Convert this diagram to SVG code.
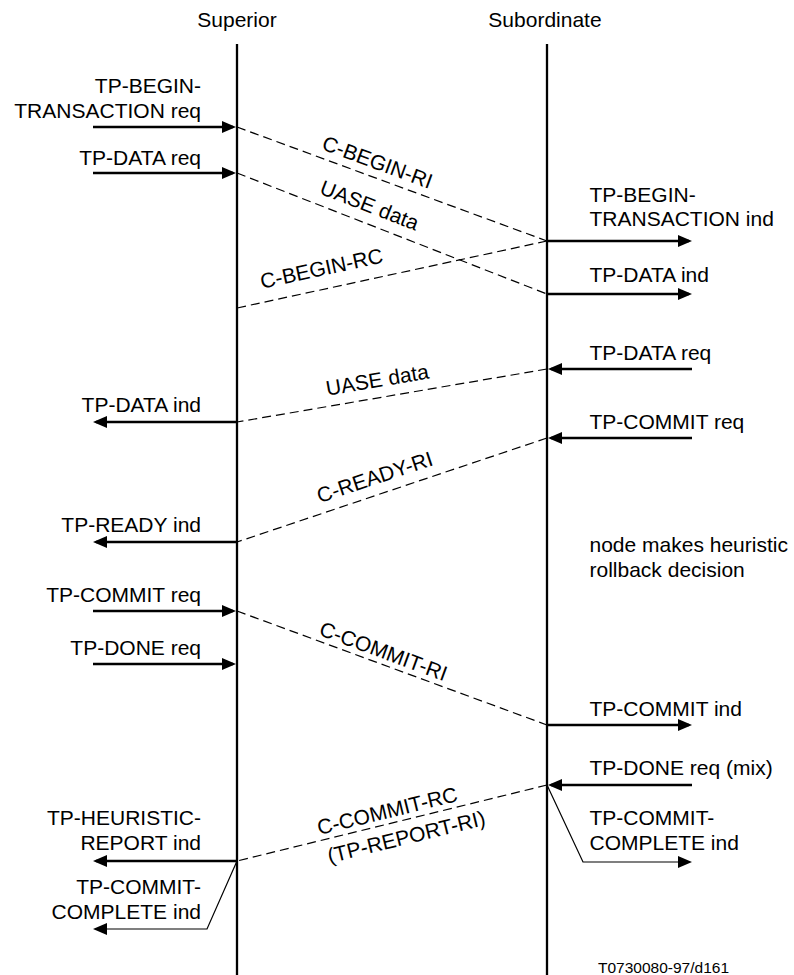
<svg xmlns="http://www.w3.org/2000/svg" width="794" height="975" viewBox="0 0 794 975">
<defs>
<style>
text{font-family:"Liberation Sans",Arial,sans-serif;font-size:21px;fill:#000}
.e{text-anchor:end}
.m{text-anchor:middle}
.life{stroke:#000;stroke-width:2.3;fill:none}
.arr{stroke:#000;stroke-width:2.5;fill:none;marker-end:url(#ah)}
.thin{stroke:#000;stroke-width:1.2;fill:none;marker-end:url(#ah)}
.dash{stroke:#000;stroke-width:1.2;fill:none;stroke-dasharray:9 5}
.code{font-size:15.5px}
</style>
<marker id="ah" markerUnits="userSpaceOnUse" markerWidth="14" markerHeight="12" viewBox="0 0 14 12" refX="11" refY="6" orient="auto">
<path d="M0,0 L14,6 L0,12 z" fill="#000"/>
</marker>
</defs>
<rect width="794" height="975" fill="#fff"/>

<g id="superior">
<text class="m" x="237" y="26.5">Superior</text>
<path class="life" d="M237,44 L237,975"/>
</g>
<g id="subordinate">
<text class="m" x="545" y="26.5">Subordinate</text>
<path class="life" d="M547,44 L547,975"/>
</g>

<g id="connectors">
<path class="arr" d="M93,127 L233,127"/>
<path class="arr" d="M93,173 L233,173"/>
<path class="arr" d="M93,611 L233,611"/>
<path class="arr" d="M93,664 L233,664"/>
<path class="arr" d="M237,422 L96,422"/>
<path class="arr" d="M237,542 L96,542"/>
<path class="arr" d="M237,861 L96,861"/>
<path class="thin" d="M237,861 L207,929 L96,929"/>
<path class="arr" d="M547,241 L689,241"/>
<path class="arr" d="M547,294 L689,294"/>
<path class="arr" d="M547,725 L689,725"/>
<path class="thin" d="M547,785 L583,862 L689,862"/>
<path class="arr" d="M692,369 L551,369"/>
<path class="arr" d="M692,438 L551,438"/>
<path class="arr" d="M692,785 L551,785"/>
<path class="dash" d="M237,127 L547,241"/>
<path class="dash" d="M237,173 L547,294"/>
<path class="dash" d="M547,241 L237,308"/>
<path class="dash" d="M547,369 L237,422"/>
<path class="dash" d="M547,438 L237,542"/>
<path class="dash" d="M237,611 L547,725"/>
<path class="dash" d="M547,785 L237,861"/>
</g>

<g id="msg-labels">
<text class="m" transform="translate(375,169) rotate(20.2)">C-BEGIN-RI</text>
<text class="m" transform="translate(367,212) rotate(21.3)">UASE data</text>
<text class="m" transform="translate(323,275.5) rotate(-12.2)">C-BEGIN-RC</text>
<text class="m" transform="translate(378.5,387) rotate(-9.7)">UASE data</text>
<text class="m" transform="translate(377,484) rotate(-18.5)">C-READY-RI</text>
<text class="m" transform="translate(381,658) rotate(20.2)">C-COMMIT-RI</text>
<text class="m" transform="translate(389,818) rotate(-13.8)">C-COMMIT-RC</text>
<text class="m" transform="translate(408,844) rotate(-13.8)">(TP-REPORT-RI)</text>
</g>

<g id="superior-primitives">
<text class="e" x="201" y="93">TP-BEGIN-</text>
<text class="e" x="201" y="118">TRANSACTION req</text>
<text class="e" x="201" y="165">TP-DATA req</text>
<text class="e" x="201" y="411.5">TP-DATA ind</text>
<text class="e" x="201" y="531.5">TP-READY ind</text>
<text class="e" x="201" y="601.5">TP-COMMIT req</text>
<text class="e" x="201" y="655">TP-DONE req</text>
<text class="e" x="201" y="825">TP-HEURISTIC-</text>
<text class="e" x="201" y="850">REPORT ind</text>
<text class="e" x="201" y="893.5">TP-COMMIT-</text>
<text class="e" x="201" y="918.5">COMPLETE ind</text>
</g>

<g id="subordinate-primitives">
<text x="589.5" y="201.5">TP-BEGIN-</text>
<text x="589.5" y="226">TRANSACTION ind</text>
<text x="589.5" y="281.5">TP-DATA ind</text>
<text x="589.5" y="360">TP-DATA req</text>
<text x="589.5" y="429">TP-COMMIT req</text>
<text x="589.5" y="552">node makes heuristic</text>
<text x="589.5" y="577">rollback decision</text>
<text x="589.5" y="715.5">TP-COMMIT ind</text>
<text x="589.5" y="775">TP-DONE req (mix)</text>
<text x="589.5" y="825">TP-COMMIT-</text>
<text x="589.5" y="850">COMPLETE ind</text>
</g>

<g id="figure-code">
<text class="code" x="598" y="973">T0730080-97/d161</text>
</g>
</svg>
